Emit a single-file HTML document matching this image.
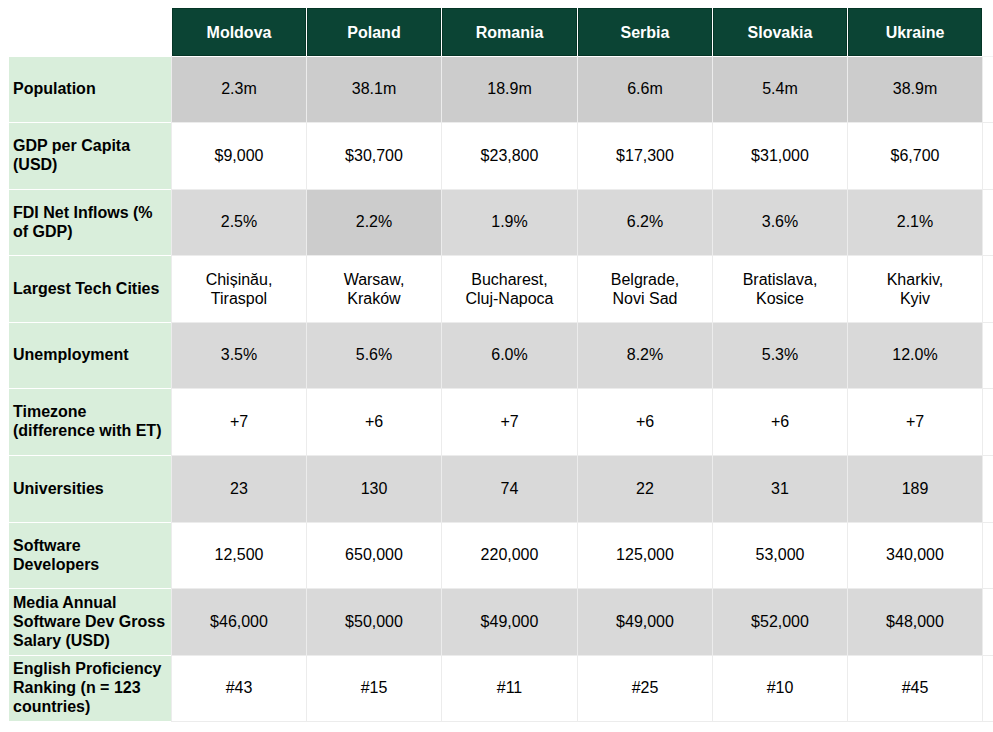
<!DOCTYPE html>
<html><head><meta charset="utf-8"><style>
html,body{margin:0;padding:0;background:#fff;width:993px;height:732px;overflow:hidden;position:relative}
body{font-family:"Liberation Sans",sans-serif;color:#000;font-size:16px;line-height:19px}
.c{position:absolute;display:flex;align-items:center;justify-content:center;text-align:center;box-sizing:border-box}
.h{background:#0b4434;color:#fff;font-weight:bold;border:1px solid #053526}
.l{background:#d9eedb;font-weight:bold;justify-content:flex-start;text-align:left;padding-left:4px}
.b{padding-bottom:2px}
.gv{position:absolute;background:#ececec}
</style></head><body>

<div class="gv" style="left:171px;top:56px;width:1px;height:666px"></div>
<div class="gv" style="left:306px;top:56px;width:1px;height:666px"></div>
<div class="gv" style="left:441px;top:56px;width:1px;height:666px"></div>
<div class="gv" style="left:577px;top:56px;width:1px;height:666px"></div>
<div class="gv" style="left:712px;top:56px;width:1px;height:666px"></div>
<div class="gv" style="left:847px;top:56px;width:1px;height:666px"></div>
<div class="gv" style="left:982px;top:56px;width:1px;height:666px"></div>
<div class="gv" style="left:982px;top:56px;width:11px;height:1px;background:#f3f3f3"></div>
<div class="gv" style="left:171px;top:122px;width:822px;height:1px"></div>
<div class="gv" style="left:171px;top:189px;width:822px;height:1px"></div>
<div class="gv" style="left:171px;top:255px;width:822px;height:1px"></div>
<div class="gv" style="left:171px;top:322px;width:822px;height:1px"></div>
<div class="gv" style="left:171px;top:388px;width:822px;height:1px"></div>
<div class="gv" style="left:171px;top:455px;width:822px;height:1px"></div>
<div class="gv" style="left:171px;top:522px;width:822px;height:1px"></div>
<div class="gv" style="left:171px;top:588px;width:822px;height:1px"></div>
<div class="gv" style="left:171px;top:655px;width:822px;height:1px"></div>
<div class="gv" style="left:171px;top:721px;width:822px;height:1px"></div>
<div class="c h" style="left:172px;top:8px;width:134px;height:48px">Moldova</div>
<div class="c h" style="left:307px;top:8px;width:134px;height:48px">Poland</div>
<div class="c h" style="left:442px;top:8px;width:135px;height:48px">Romania</div>
<div class="c h" style="left:578px;top:8px;width:134px;height:48px">Serbia</div>
<div class="c h" style="left:713px;top:8px;width:134px;height:48px">Slovakia</div>
<div class="c h" style="left:848px;top:8px;width:134px;height:48px">Ukraine</div>
<div class="c l b" style="left:9px;top:57px;width:162px;height:65px">Population</div>
<div class="c b" style="left:172px;top:57px;width:134px;height:65px;background:#cccccc">2.3m</div>
<div class="c b" style="left:307px;top:57px;width:134px;height:65px;background:#cccccc">38.1m</div>
<div class="c b" style="left:442px;top:57px;width:135px;height:65px;background:#cccccc">18.9m</div>
<div class="c b" style="left:578px;top:57px;width:134px;height:65px;background:#cccccc">6.6m</div>
<div class="c b" style="left:713px;top:57px;width:134px;height:65px;background:#cccccc">5.4m</div>
<div class="c b" style="left:848px;top:57px;width:134px;height:65px;background:#cccccc">38.9m</div>
<div class="c l b" style="left:9px;top:123px;width:162px;height:66px">GDP per Capita<br>(USD)</div>
<div class="c b" style="left:172px;top:123px;width:134px;height:66px">$9,000</div>
<div class="c b" style="left:307px;top:123px;width:134px;height:66px">$30,700</div>
<div class="c b" style="left:442px;top:123px;width:135px;height:66px">$23,800</div>
<div class="c b" style="left:578px;top:123px;width:134px;height:66px">$17,300</div>
<div class="c b" style="left:713px;top:123px;width:134px;height:66px">$31,000</div>
<div class="c b" style="left:848px;top:123px;width:134px;height:66px">$6,700</div>
<div class="c l b" style="left:9px;top:190px;width:162px;height:65px">FDI Net Inflows (%<br>of GDP)</div>
<div class="c b" style="left:172px;top:190px;width:134px;height:65px;background:#d9d9d9">2.5%</div>
<div class="c b" style="left:307px;top:190px;width:134px;height:65px;background:#cccccc">2.2%</div>
<div class="c b" style="left:442px;top:190px;width:135px;height:65px;background:#d9d9d9">1.9%</div>
<div class="c b" style="left:578px;top:190px;width:134px;height:65px;background:#d9d9d9">6.2%</div>
<div class="c b" style="left:713px;top:190px;width:134px;height:65px;background:#d9d9d9">3.6%</div>
<div class="c b" style="left:848px;top:190px;width:134px;height:65px;background:#d9d9d9">2.1%</div>
<div class="c l b" style="left:9px;top:256px;width:162px;height:66px">Largest Tech Cities</div>
<div class="c" style="left:172px;top:256px;width:134px;height:66px">Chișinău,<br>Tiraspol</div>
<div class="c" style="left:307px;top:256px;width:134px;height:66px">Warsaw,<br>Kraków</div>
<div class="c" style="left:442px;top:256px;width:135px;height:66px">Bucharest,<br>Cluj-Napoca</div>
<div class="c" style="left:578px;top:256px;width:134px;height:66px">Belgrade,<br>Novi Sad</div>
<div class="c" style="left:713px;top:256px;width:134px;height:66px">Bratislava,<br>Kosice</div>
<div class="c" style="left:848px;top:256px;width:134px;height:66px">Kharkiv,<br>Kyiv</div>
<div class="c l b" style="left:9px;top:323px;width:162px;height:65px">Unemployment</div>
<div class="c b" style="left:172px;top:323px;width:134px;height:65px;background:#d9d9d9">3.5%</div>
<div class="c b" style="left:307px;top:323px;width:134px;height:65px;background:#d9d9d9">5.6%</div>
<div class="c b" style="left:442px;top:323px;width:135px;height:65px;background:#d9d9d9">6.0%</div>
<div class="c b" style="left:578px;top:323px;width:134px;height:65px;background:#d9d9d9">8.2%</div>
<div class="c b" style="left:713px;top:323px;width:134px;height:65px;background:#d9d9d9">5.3%</div>
<div class="c b" style="left:848px;top:323px;width:134px;height:65px;background:#d9d9d9">12.0%</div>
<div class="c l b" style="left:9px;top:389px;width:162px;height:66px">Timezone<br>(difference with ET)</div>
<div class="c b" style="left:172px;top:389px;width:134px;height:66px">+7</div>
<div class="c b" style="left:307px;top:389px;width:134px;height:66px">+6</div>
<div class="c b" style="left:442px;top:389px;width:135px;height:66px">+7</div>
<div class="c b" style="left:578px;top:389px;width:134px;height:66px">+6</div>
<div class="c b" style="left:713px;top:389px;width:134px;height:66px">+6</div>
<div class="c b" style="left:848px;top:389px;width:134px;height:66px">+7</div>
<div class="c l b" style="left:9px;top:456px;width:162px;height:66px">Universities</div>
<div class="c b" style="left:172px;top:456px;width:134px;height:66px;background:#d9d9d9">23</div>
<div class="c b" style="left:307px;top:456px;width:134px;height:66px;background:#d9d9d9">130</div>
<div class="c b" style="left:442px;top:456px;width:135px;height:66px;background:#d9d9d9">74</div>
<div class="c b" style="left:578px;top:456px;width:134px;height:66px;background:#d9d9d9">22</div>
<div class="c b" style="left:713px;top:456px;width:134px;height:66px;background:#d9d9d9">31</div>
<div class="c b" style="left:848px;top:456px;width:134px;height:66px;background:#d9d9d9">189</div>
<div class="c l b" style="left:9px;top:523px;width:162px;height:65px">Software<br>Developers</div>
<div class="c b" style="left:172px;top:523px;width:134px;height:65px">12,500</div>
<div class="c b" style="left:307px;top:523px;width:134px;height:65px">650,000</div>
<div class="c b" style="left:442px;top:523px;width:135px;height:65px">220,000</div>
<div class="c b" style="left:578px;top:523px;width:134px;height:65px">125,000</div>
<div class="c b" style="left:713px;top:523px;width:134px;height:65px">53,000</div>
<div class="c b" style="left:848px;top:523px;width:134px;height:65px">340,000</div>
<div class="c l b" style="left:9px;top:589px;width:162px;height:66px">Media Annual<br>Software Dev Gross<br>Salary (USD)</div>
<div class="c b" style="left:172px;top:589px;width:134px;height:66px;background:#d9d9d9">$46,000</div>
<div class="c b" style="left:307px;top:589px;width:134px;height:66px;background:#d9d9d9">$50,000</div>
<div class="c b" style="left:442px;top:589px;width:135px;height:66px;background:#d9d9d9">$49,000</div>
<div class="c b" style="left:578px;top:589px;width:134px;height:66px;background:#d9d9d9">$49,000</div>
<div class="c b" style="left:713px;top:589px;width:134px;height:66px;background:#d9d9d9">$52,000</div>
<div class="c b" style="left:848px;top:589px;width:134px;height:66px;background:#d9d9d9">$48,000</div>
<div class="c l b" style="left:9px;top:656px;width:162px;height:65px">English Proficiency<br>Ranking (n = 123<br>countries)</div>
<div class="c b" style="left:172px;top:656px;width:134px;height:65px">#43</div>
<div class="c b" style="left:307px;top:656px;width:134px;height:65px">#15</div>
<div class="c b" style="left:442px;top:656px;width:135px;height:65px">#11</div>
<div class="c b" style="left:578px;top:656px;width:134px;height:65px">#25</div>
<div class="c b" style="left:713px;top:656px;width:134px;height:65px">#10</div>
<div class="c b" style="left:848px;top:656px;width:134px;height:65px">#45</div>
</body></html>
